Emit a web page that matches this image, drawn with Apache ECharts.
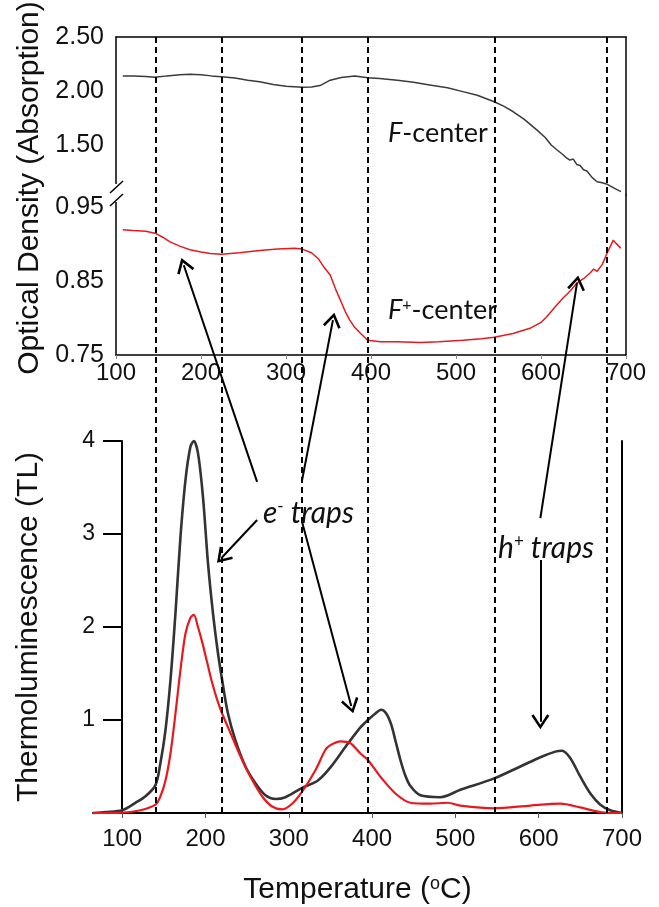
<!DOCTYPE html>
<html>
<head>
<meta charset="utf-8">
<script src="https://cdn.jsdelivr.net/npm/echarts@6/dist/echarts.min.js"></script>
<style>
  html, body { margin: 0; padding: 0; background: #fff; }
  #chart { width: 659px; height: 907px; }
</style>
</head>
<body>
<div id="chart"></div>
<script>
// top panel, F-center optical density (upper part of broken axis)
const fTemps = [108, 120, 135, 146, 160, 175, 187, 200, 212, 224, 240, 255, 269, 285, 300, 319, 330, 340, 352, 365, 381, 396, 410, 431, 450, 469, 490, 508, 525, 545, 556, 567, 580, 595, 605, 612, 619, 626, 630, 634, 638, 642, 646, 650, 654, 660, 666, 672, 678, 686, 694];
const fValues = [2.14, 2.14, 2.135, 2.127, 2.14, 2.15, 2.155, 2.15, 2.14, 2.133, 2.12, 2.10, 2.086, 2.06, 2.045, 2.034, 2.038, 2.05, 2.10, 2.125, 2.139, 2.123, 2.115, 2.10, 2.08, 2.056, 2.03, 1.994, 1.96, 1.90, 1.86, 1.81, 1.74, 1.64, 1.57, 1.50, 1.454, 1.41, 1.38, 1.36, 1.37, 1.32, 1.31, 1.27, 1.26, 1.20, 1.16, 1.15, 1.136, 1.10, 1.068];

// top panel, F+-center optical density (lower part of broken axis)
const fpTemps = [108, 120, 135, 146, 155, 163, 175, 187, 200, 211, 224, 245, 269, 290, 310, 319, 330, 338, 345, 352, 358, 364, 370, 375, 381, 387, 396, 411, 430, 458, 480, 508, 530, 545, 567, 587, 600, 607, 616, 626, 634, 642, 650, 658, 662, 666, 672, 678, 685, 689, 694];
const fpValues = [0.919, 0.918, 0.917, 0.9145, 0.909, 0.903, 0.897, 0.892, 0.889, 0.887, 0.886, 0.888, 0.891, 0.893, 0.894, 0.893, 0.888, 0.880, 0.868, 0.858, 0.840, 0.824, 0.808, 0.797, 0.787, 0.780, 0.770, 0.768, 0.768, 0.767, 0.768, 0.770, 0.772, 0.774, 0.779, 0.786, 0.794, 0.802, 0.814, 0.827, 0.836, 0.847, 0.853, 0.861, 0.866, 0.863, 0.872, 0.888, 0.905, 0.900, 0.894];

// bottom panel, thermoluminescence glow curves
const tlBlackTemps = [65, 80, 100, 116, 128, 140, 146, 152, 158, 164, 170, 176, 182, 186, 191, 197, 203, 209, 215, 220, 227, 236, 248, 260, 272, 284, 296, 316, 335, 350, 368, 386, 395, 404, 411, 417, 423, 428, 434, 440, 446, 458, 482, 506, 546, 578, 602, 620, 628, 638, 650, 662, 674, 686, 700];
const tlBlackValues = [0, 0.01, 0.03, 0.11, 0.18, 0.30, 0.54, 0.89, 1.43, 2.15, 2.97, 3.58, 3.94, 4.0, 3.87, 3.40, 2.69, 2.15, 1.72, 1.43, 1.07, 0.78, 0.50, 0.32, 0.19, 0.15, 0.17, 0.27, 0.35, 0.49, 0.71, 0.92, 1.0, 1.07, 1.11, 1.07, 0.95, 0.78, 0.57, 0.40, 0.29, 0.19, 0.17, 0.25, 0.37, 0.50, 0.60, 0.66, 0.67, 0.59, 0.39, 0.21, 0.09, 0.03, 0];
const tlRedTemps = [65, 100, 122, 140, 146, 152, 158, 164, 170, 176, 182, 186, 191, 196, 202, 208, 214, 220, 230, 242, 254, 268, 280, 292, 304, 316, 332, 344, 350, 362, 374, 386, 395, 410, 428, 446, 470, 490, 506, 546, 590, 626, 650, 674, 700];
const tlRedValues = [0, 0.005, 0.03, 0.09, 0.18, 0.35, 0.64, 1.07, 1.54, 1.93, 2.10, 2.13, 2.0, 1.84, 1.62, 1.40, 1.22, 1.07, 0.86, 0.61, 0.39, 0.18, 0.07, 0.04, 0.10, 0.23, 0.46, 0.68, 0.73, 0.77, 0.75, 0.64, 0.57, 0.39, 0.21, 0.11, 0.10, 0.11, 0.08, 0.05, 0.08, 0.10, 0.06, 0.01, 0];

// trap boundaries (dashed lines), temperature in oC
const trapLines = [140, 220, 316, 395, 547, 682];

// tick labels
const xTicks = [100, 200, 300, 400, 500, 600, 700];
const odUpperTicks = [1.5, 2.0, 2.5];
const odLowerTicks = [0.75, 0.85, 0.95];
const tlTicks = [1, 2, 3, 4];

// arrows in overlay coords: [temp, height in TL units measured from the bottom axis]
const arrows = [
  [[262, 3.56], [174, 5.89]],
  [[316, 3.58], [353, 5.30]],
  [[316, 3.13], [375, 1.15]],
  [[262, 3.15], [220, 2.75]],
  [[602, 3.17], [646, 5.70]],
  [[602, 2.72], [602, 0.98]]
];

const pairs = (xs, ys) => xs.map((x, i) => [x, ys[i]]);

const numFont = "Liberation Sans";
const noteFont = "Lato";
const arrowHead = "path://M5,0L10,9L8.8,10L5,3L1.2,10L0,9Z";

const chart = echarts.init(document.getElementById("chart"), null, { renderer: "canvas" });

const blankAxis = {
  axisLabel: { show: false },
  axisTick: { show: false },
  splitLine: { show: false }
};

const option = {
  animation: false,
  backgroundColor: "#fff",
  grid: [
    { left: 116, right: 33, top: 37, height: 158, outerBoundsMode: "none" },   // OD upper
    { left: 116, right: 33, top: 195, height: 160, outerBoundsMode: "none" },  // OD lower
    { left: 93, right: 37, top: 441, height: 372, outerBoundsMode: "none" },   // TL
    { left: 93, right: 37, top: 37, height: 776, outerBoundsMode: "none" }     // overlay for dashed lines + arrows
  ],
  xAxis: [
    { gridIndex: 0, type: "value", position: "top", min: 100, max: 700, ...blankAxis,
      axisLine: { lineStyle: { color: "#000", width: 1.5 } } },
    { gridIndex: 1, type: "value", min: 100, max: 700, interval: 100,
      axisLine: { lineStyle: { color: "#000", width: 1.5 } },
      axisTick: { length: 4, lineStyle: { color: "#888" } },
      axisLabel: { fontFamily: numFont, fontSize: 24, color: "#111", margin: 6 },
      splitLine: { show: false } },
    { gridIndex: 2, type: "value", min: 65, max: 700,
      axisLine: { onZero: false, lineStyle: { color: "#000", width: 2 } },
      axisTick: { customValues: xTicks, length: 5, lineStyle: { color: "#555" } },
      axisLabel: { customValues: xTicks, fontFamily: numFont, fontSize: 24, color: "#111", margin: 14 },
      splitLine: { show: false },
      name: "{a|Temperature (}{s|o}{a|C)}",
      nameLocation: "middle",
      nameGap: 62,
      nameTextStyle: {
        rich: {
          a: { fontFamily: numFont, fontSize: 30, color: "#111" },
          s: { fontFamily: numFont, fontSize: 18, color: "#111", verticalAlign: "top" }
        }
      } },
    { gridIndex: 3, type: "value", min: 65, max: 700, show: false }
  ],
  yAxis: [
    { gridIndex: 0, type: "value", min: 1.037, max: 2.5,
      axisLine: { show: true, lineStyle: { color: "#000", width: 1.5 } },
      axisTick: { show: false },
      axisLabel: { customValues: odUpperTicks, formatter: v => v.toFixed(2),
        fontFamily: numFont, fontSize: 25, color: "#111", margin: 12 },
      splitLine: { show: false } },
    { gridIndex: 0, type: "value", position: "right", min: 1.037, max: 2.5, ...blankAxis,
      axisLine: { show: true, lineStyle: { color: "#000", width: 1.5 } } },
    { gridIndex: 1, type: "value", min: 0.75, max: 0.966,
      axisLine: { show: true, lineStyle: { color: "#000", width: 1.5 } },
      axisTick: { show: false },
      axisLabel: { customValues: odLowerTicks, formatter: v => v.toFixed(2),
        fontFamily: numFont, fontSize: 25, color: "#111", margin: 12 },
      splitLine: { show: false } },
    { gridIndex: 1, type: "value", position: "right", min: 0.75, max: 0.966, ...blankAxis,
      axisLine: { show: true, lineStyle: { color: "#000", width: 1.5 } } },
    { gridIndex: 2, type: "value", min: 0, max: 4, offset: -29,
      axisLine: { show: true, onZero: false, lineStyle: { color: "#000", width: 2 } },
      axisTick: { show: true, customValues: tlTicks, length: 19, lineStyle: { color: "#000", width: 2 } },
      axisLabel: { customValues: tlTicks, fontFamily: numFont, fontSize: 23, color: "#111", margin: 27 },
      splitLine: { show: false },
      name: "Thermoluminescence (TL)",
      nameLocation: "middle",
      nameGap: 78,
      nameTextStyle: { fontFamily: numFont, fontSize: 30, color: "#111" } },
    { gridIndex: 2, type: "value", position: "right", min: 0, max: 4, ...blankAxis,
      axisLine: { show: true, onZero: false, lineStyle: { color: "#000", width: 2 } } },
    { gridIndex: 3, type: "value", min: 0, max: 8.344, show: false }
  ],
  series: [
    { name: "F-center", type: "line", xAxisIndex: 0, yAxisIndex: 0, showSymbol: false,
      data: pairs(fTemps, fValues), lineStyle: { color: "#3a3a3a", width: 1.5 } },
    { name: "F+-center", type: "line", xAxisIndex: 1, yAxisIndex: 2, showSymbol: false,
      data: pairs(fpTemps, fpValues), lineStyle: { color: "#e8191e", width: 1.5 } },
    { name: "TL black", type: "line", xAxisIndex: 2, yAxisIndex: 4, showSymbol: false, smooth: 0.3,
      clip: false, data: pairs(tlBlackTemps, tlBlackValues), lineStyle: { color: "#333", width: 2.6 } },
    { name: "TL red", type: "line", xAxisIndex: 2, yAxisIndex: 4, showSymbol: false, smooth: 0.3,
      data: pairs(tlRedTemps, tlRedValues), lineStyle: { color: "#e8191e", width: 2.2 } },
    { name: "traps", type: "line", xAxisIndex: 3, yAxisIndex: 6, data: [], silent: true,
      markLine: {
        silent: true, animation: false, symbol: ["none", "none"],
        label: { show: false },
        lineStyle: { color: "#000", width: 2, type: [6, 4] },
        data: trapLines.map(t => ({ xAxis: t }))
      } },
    { name: "arrows", type: "line", xAxisIndex: 3, yAxisIndex: 6, data: [], silent: true,
      markLine: {
        silent: true, animation: false, symbol: ["none", arrowHead], symbolSize: [18, 15],
        label: { show: false },
        lineStyle: { color: "#000", width: 2, type: "solid" },
        data: arrows.map(a => [{ coord: a[0] }, { coord: a[1] }])
      } }
  ],
  graphic: [
    // axis break marks
    { type: "rect", shape: { x: 112, y: 184, width: 9, height: 18 }, style: { fill: "#fff" }, z: 100 },
    { type: "line", shape: { x1: 110, y1: 193, x2: 123, y2: 181 }, style: { stroke: "#000", lineWidth: 1.5 }, z: 101 },
    { type: "line", shape: { x1: 110, y1: 206, x2: 123, y2: 194 }, style: { stroke: "#000", lineWidth: 1.5 }, z: 101 },
    { type: "text", x: 30, y: 188, rotation: Math.PI / 2, z: 100,
      style: { text: "Optical Density (Absorption)", fontFamily: numFont, fontSize: 30, fill: "#111",
        align: "center", verticalAlign: "middle" } },
    { type: "text", x: 388, y: 133, z: 100,
      style: { text: "{i|F}{n|-center}", verticalAlign: "middle",
        rich: { i: { fontFamily: noteFont, fontStyle: "italic", fontSize: 27, fill: "#111" },
                n: { fontFamily: noteFont, fontSize: 27, fill: "#111" } } } },
    { type: "text", x: 388, y: 310, z: 100,
      style: { text: "{i|F}{s|+}{n|-center}", verticalAlign: "middle",
        rich: { i: { fontFamily: noteFont, fontStyle: "italic", fontSize: 27, fill: "#111" },
                s: { fontFamily: noteFont, fontSize: 16, fill: "#111", verticalAlign: "top" },
                n: { fontFamily: noteFont, fontSize: 27, fill: "#111" } } } },
    { type: "text", x: 263, y: 513, z: 100,
      style: { text: "{i|e}{s|-}{i| traps}", verticalAlign: "middle",
        rich: { i: { fontFamily: noteFont, fontStyle: "italic", fontSize: 30, fill: "#111" },
                s: { fontFamily: noteFont, fontSize: 17, fill: "#111", verticalAlign: "top" } } } },
    { type: "text", x: 498, y: 548, z: 100,
      style: { text: "{i|h}{s|+}{i| traps}", verticalAlign: "middle",
        rich: { i: { fontFamily: noteFont, fontStyle: "italic", fontSize: 30, fill: "#111" },
                s: { fontFamily: noteFont, fontSize: 17, fill: "#111", verticalAlign: "top" } } } }
  ]
};

chart.setOption(option);
</script>
</body>
</html>
